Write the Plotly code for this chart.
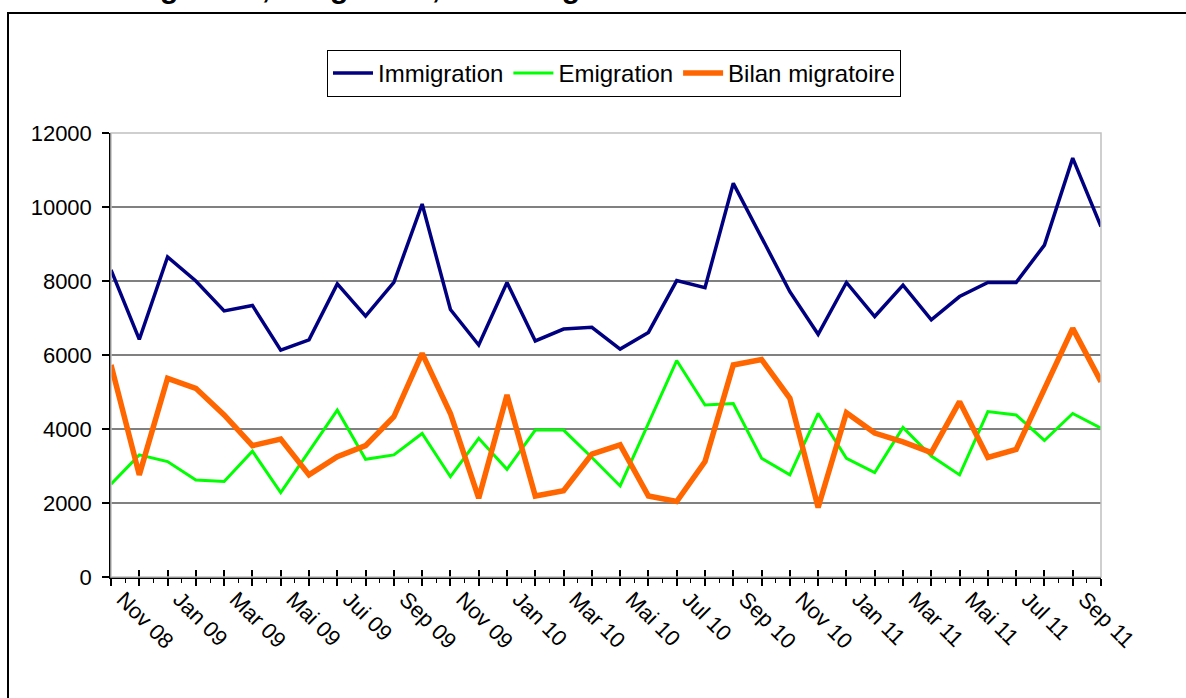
import plotly.graph_objects as go

# ---- data ----
immigration = [8300, 6420, 8650, 8000, 7190, 7340, 6130, 6410, 7920, 7050,
               7960, 10080, 7230, 6270, 7960, 6380, 6700, 6750, 6160, 6610,
               8010, 7820, 10640, 9200, 7710, 6560, 7960, 7040, 7890, 6950,
               7580, 7960, 7960, 8970, 11320, 9470]
emigration = [2510, 3300, 3120, 2620, 2580, 3400, 2280, 3390, 4510, 3180,
              3300, 3880, 2710, 3750, 2910, 3970, 3970, 3230, 2460, 4150,
              5850, 4650, 4690, 3210, 2760, 4420, 3210, 2820, 4040, 3270,
              2760, 4470, 4380, 3690, 4420, 4020]
bilan = [5730, 2760, 5370, 5100, 4380, 3550, 3730, 2760, 3250, 3550,
         4330, 6045, 4420, 2130, 4920, 2190, 2330, 3320, 3570, 2190,
         2040, 3120, 5730, 5880, 4830, 1880, 4440, 3890, 3650, 3360,
         4740, 3230, 3450, 5050, 6720, 5280]
tick_labels = ["Nov 08", "Jan 09", "Mar 09", "Mai 09", "Jui 09", "Sep 09",
               "Nov 09", "Jan 10", "Mar 10", "Mai 10", "Jul 10", "Sep 10",
               "Nov 10", "Jan 11", "Mar 11", "Mai 11", "Jul 11", "Sep 11"]
y_ticks = [0, 2000, 4000, 6000, 8000, 10000, 12000]
title_text = "Immigration, émigration, bilan migratoire"

n = len(immigration)
x = list(range(n))
label_pos = list(range(0, 2 * len(tick_labels), 2))

FONT = "Liberation Sans, Arial, sans-serif"

fig = go.Figure()
fig.add_trace(go.Scatter(x=x, y=immigration, mode="lines", name="Immigration",
                         line=dict(color="#000080", width=3.5)))
fig.add_trace(go.Scatter(x=x, y=emigration, mode="lines", name="Emigration",
                         line=dict(color="#00ff00", width=3)))
fig.add_trace(go.Scatter(x=x, y=bilan, mode="lines", name="Bilan migratoire",
                         line=dict(color="#ff6600", width=5.5)))
# invisible helper trace for the inside half of crossing ticks
fig.add_trace(go.Scatter(x=[0], y=[None], xaxis="x2", mode="lines",
                         showlegend=False, hoverinfo="skip"))

W, H = 1186, 698
L, T = 111, 133
R = W - 1101
B = H - 577
pw, ph = W - L - R, H - T - B

def sx(px):  # screen x pixel -> paper
    return (px - L) / pw

def sy(py):  # screen y pixel -> paper
    return (H - B - py) / ph

fig.update_layout(
    width=W, height=H,
    margin=dict(l=L, r=R, t=T, b=B, autoexpand=False),
    paper_bgcolor="white", plot_bgcolor="white",
    font=dict(family=FONT, size=22, color="black"),
    showlegend=True,
    legend=dict(
        orientation="h",
        x=sx(327), y=sy(50),
        xanchor="left", yanchor="top",
        bordercolor="black", borderwidth=1,
        bgcolor="white",
        font=dict(family=FONT, size=24, color="black"),
        itemwidth=40,
        tracegroupgap=0,
    ),
    xaxis=dict(
        range=[0, n - 1],
        tickmode="array",
        tickvals=x,
        ticktext=[tick_labels[label_pos.index(i)] if i in label_pos else "" for i in x],
        tickangle=45,
        ticks="outside", ticklen=7, tickwidth=1.5, tickcolor="black",
        ticklabelshift=12, ticklabelstandoff=-8,
        showline=True, linecolor="black", linewidth=1.5,
        showgrid=False, zeroline=False,
        minor=dict(tickmode="array",
                   tickvals=[i + 0.5 for i in range(n - 1)],
                   ticks="outside", ticklen=4, tickwidth=1, tickcolor="black",
                   showgrid=False),
        tickfont=dict(family=FONT, size=22),
        fixedrange=True,
    ),
    xaxis2=dict(
        overlaying="x", anchor="y", side="bottom",
        range=[0, n - 1],
        tickmode="array", tickvals=x,
        ticks="inside", ticklen=7, tickwidth=1.5, tickcolor="black",
        showticklabels=False, showline=False, showgrid=False, zeroline=False,
    ),
    yaxis=dict(
        range=[0, 12000],
        tickmode="array", tickvals=y_ticks,
        ticktext=[str(v) for v in y_ticks],
        ticks="outside", ticklen=7, tickwidth=1.5, tickcolor="black",
        ticklabelstandoff=6,
        showline=True, linecolor="black", linewidth=1.5,
        showgrid=True, gridcolor="#808080", gridwidth=1.5,
        zeroline=False,
        tickfont=dict(family=FONT, size=22),
    ),
    shapes=[
        # light grey plot-area border (top/right)
        dict(type="rect", xref="paper", yref="paper", x0=0, x1=1, y0=0, y1=1,
             line=dict(color="#c0c0c0", width=1.5), layer="above"),
        # outer chart frame
        dict(type="rect", xref="paper", yref="paper",
             x0=sx(8), x1=sx(1210),
             y0=sy(720), y1=sy(13),
             line=dict(color="black", width=2), layer="below"),
    ],
    annotations=[
        dict(text="<b>" + title_text + "</b>", xref="paper", yref="paper",
             x=sx(88), y=sy(-13),
             xanchor="left", yanchor="middle", showarrow=False,
             font=dict(family=FONT, size=30, color="black")),
    ],
)

fig.write_html("out.html",
               config={"displayModeBar": False},
               post_script="document.body.style.margin='0';"
                           "document.body.style.padding='0';")
